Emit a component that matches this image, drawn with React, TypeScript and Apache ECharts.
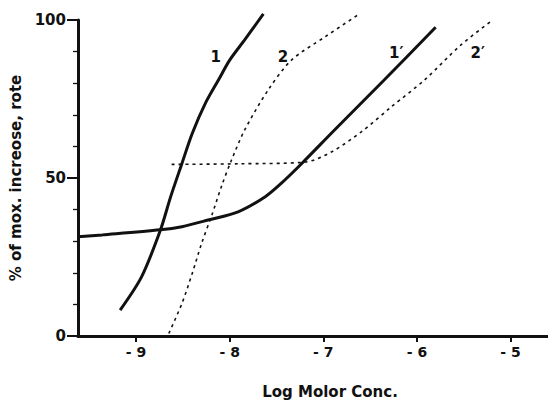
import React, { useEffect, useRef } from "react";
import * as echarts from "echarts";

// Curve 1 (solid)
const curve1: [number, number][] = [
  [-9.17, 8.2], [-8.94, 18.8], [-8.74, 33.5], [-8.63, 44.1], [-8.51, 54.6],
  [-8.4, 64.1], [-8.26, 73.6], [-8.12, 81], [-8.0, 87.3], [-7.84, 93.7],
  [-7.64, 101.9],
];
// Curve 2 (dotted)
const curve2: [number, number][] = [
  [-8.65, 0.8], [-8.51, 10.3], [-8.4, 19.8], [-8.3, 29.3], [-8.19, 38.3],
  [-8.08, 48], [-7.98, 55.7], [-7.84, 65.2], [-7.59, 77.8], [-7.34, 87.3],
  [-6.98, 94.7], [-6.63, 101.6],
];
// Curve 1' (solid)
const curve1p: [number, number][] = [
  [-9.62, 31.4], [-9.36, 32], [-8.74, 33.6], [-8.51, 34.6], [-8.23, 36.7],
  [-7.91, 39.3], [-7.62, 44.1], [-7.45, 48.3], [-7.23, 54.6], [-6.88, 65.2],
  [-6.35, 81], [-5.8, 97.7],
];
// Curve 2' (dotted)
const curve2p: [number, number][] = [
  [-8.62, 54.3], [-7.9, 54.5], [-7.2, 55], [-6.91, 58.3], [-6.59, 64.7],
  [-6.27, 72.6], [-5.92, 81], [-5.53, 92.1], [-5.19, 100],
];
// Curve labels
const curveLabels = [
  { name: "1", value: [-8.15, 88.3] },
  { name: "2", value: [-7.43, 88.3] },
  { name: "1\u2032", value: [-6.22, 89.6] },
  { name: "2\u2032", value: [-5.35, 89.6] },
];
const xTickValues = [-9, -8, -7, -6, -5];
const xTickLabels = ["- 9", "- 8", "- 7", "- 6", "- 5"];

const FONT = "DejaVu Sans";

export default function App() {
  const ref = useRef<HTMLDivElement>(null);
  useEffect(() => {
    if (!ref.current) return;
    const chart = echarts.init(ref.current, undefined, { renderer: "svg" });
    const solid = { color: "#111", width: 3 };
    const dotted = { color: "#111", width: 1.6, type: [3, 4] as number[] };
    const lineBase = {
      type: "line",
      smooth: 0.3,
      showSymbol: false,
      clip: false,
      silent: true,
    };
    chart.setOption({
      animation: false,
      backgroundColor: "#fff",
      grid: { left: 76, right: 0, top: 20, bottom: 64 },
      xAxis: {
        type: "value",
        min: -9.62,
        max: -4.6,
        axisLine: { lineStyle: { color: "#111", width: 3 } },
        axisTick: {
          customValues: xTickValues,
          length: 6,
          lineStyle: { color: "#111", width: 2 },
        },
        axisLabel: {
          customValues: xTickValues,
          formatter: (v: number) => xTickLabels[xTickValues.indexOf(v)] ?? "",
          color: "#111",
          fontFamily: FONT,
          fontWeight: "bold",
          fontSize: 14,
          margin: 9,
        },
        splitLine: { show: false },
      },
      yAxis: {
        type: "value",
        min: 0,
        max: 100,
        interval: 50,
        name: "% of mox. increose, rote",
        nameLocation: "middle",
        nameRotate: 90,
        nameGap: 55,
        nameTextStyle: {
          color: "#111",
          fontFamily: FONT,
          fontWeight: "bold",
          fontSize: 15,
        },
        axisLine: { show: true, lineStyle: { color: "#111", width: 3 } },
        axisTick: {
          show: true,
          length: 11,
          lineStyle: { color: "#111", width: 2 },
        },
        minorTick: {
          show: true,
          splitNumber: 5,
          length: 5,
          lineStyle: { color: "#111", width: 1.3 },
        },
        axisLabel: {
          color: "#111",
          fontFamily: FONT,
          fontWeight: "bold",
          fontSize: 15,
          margin: 12,
        },
        splitLine: { show: false },
        minorSplitLine: { show: false },
      },
      graphic: [
        {
          type: "text",
          x: 330,
          y: 392,
          style: {
            text: "Log Molor Conc.",
            fill: "#111",
            font: `bold 15px "${FONT}"`,
            align: "center",
            verticalAlign: "middle",
          },
        },
      ],
      series: [
        { ...lineBase, data: curve1, lineStyle: solid },
        { ...lineBase, data: curve2, lineStyle: dotted },
        { ...lineBase, data: curve1p, lineStyle: solid },
        { ...lineBase, data: curve2p, lineStyle: dotted },
        {
          type: "scatter",
          data: curveLabels,
          symbolSize: 0,
          clip: false,
          silent: true,
          itemStyle: { color: "#111", opacity: 1 },
          label: {
            show: true,
            position: "inside",
            formatter: "{b}",
            color: "#111",
            opacity: 1,
            textBorderWidth: 0,
            fontFamily: FONT,
            fontWeight: "bold",
            fontSize: 15,
          },
        },
      ],
    });
    return () => chart.dispose();
  }, []);
  return (
    <div
      ref={ref}
      style={{ position: "fixed", left: 0, top: 0, width: 548, height: 400 }}
    />
  );
}
